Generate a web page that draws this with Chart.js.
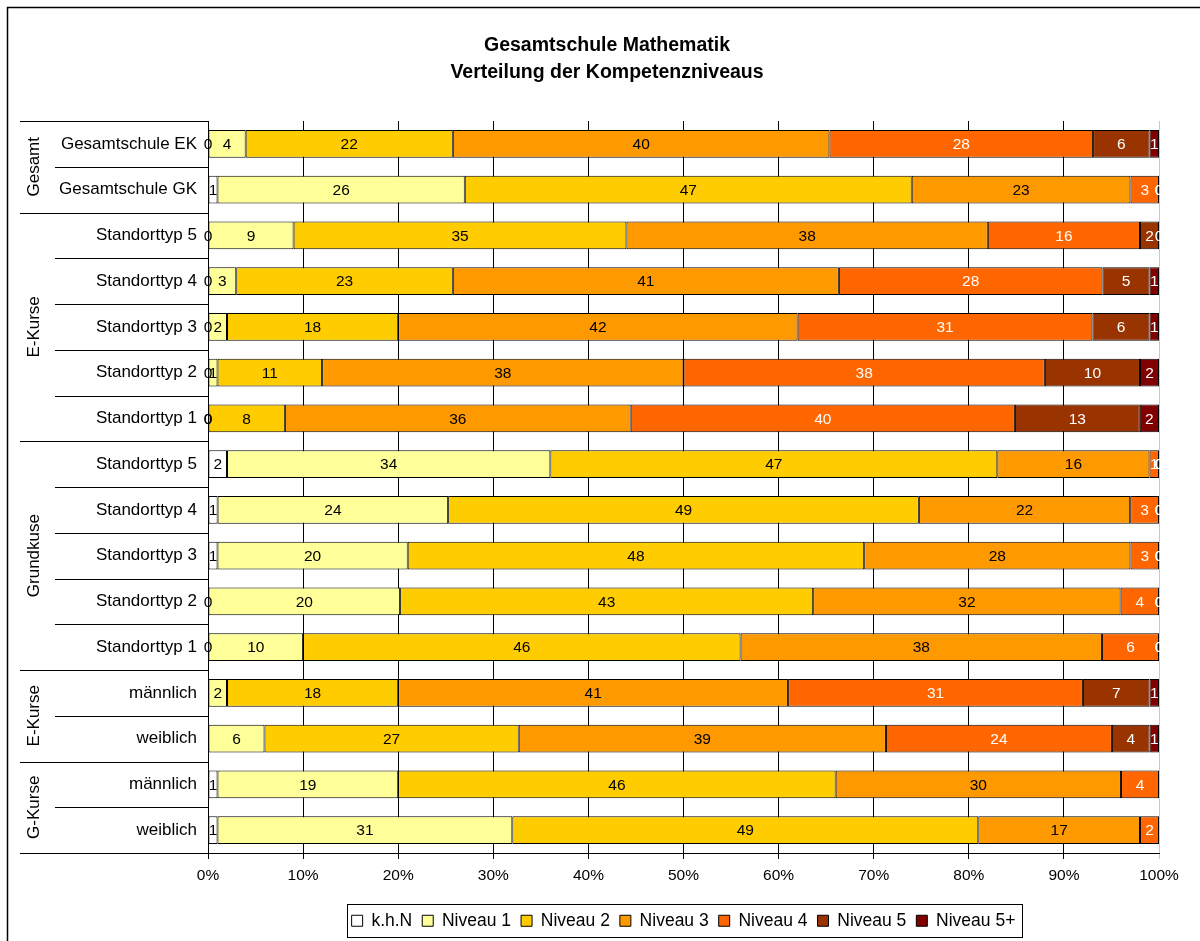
<!DOCTYPE html>
<html>
<head>
<meta charset="utf-8">
<script src="https://cdn.jsdelivr.net/npm/chart.js@4"></script>
<style>
  html, body { margin: 0; padding: 0; background: #fff; }
  #wrap { position: relative; width: 1200px; height: 941px; }
</style>
</head>
<body>
<div id="wrap"><canvas id="myChart"></canvas></div>
<script>
// rows top to bottom
const rowLabels = [
    'Gesamtschule EK', 'Gesamtschule GK',
    'Standorttyp 5', 'Standorttyp 4', 'Standorttyp 3', 'Standorttyp 2', 'Standorttyp 1',
    'Standorttyp 5', 'Standorttyp 4', 'Standorttyp 3', 'Standorttyp 2', 'Standorttyp 1',
    'männlich', 'weiblich',
    'männlich', 'weiblich'
];
// group name, number of rows
const groups = [['Gesamt', 2], ['E-Kurse', 5], ['Grundkuse', 5], ['E-Kurse', 2], ['G-Kurse', 2]];

const seriesNames = ['k.h.N', 'Niveau 1', 'Niveau 2', 'Niveau 3', 'Niveau 4', 'Niveau 5', 'Niveau 5+'];
const seriesColors = ['#FFFFFF', '#FFFF99', '#FFCC00', '#FF9900', '#FF6600', '#993300', '#800000'];

const khn   = [0, 1, 0, 0, 0, 0, 0, 2, 1, 1, 0, 0, null, null, 1, 1];
const niv1  = [4, 26, 9, 3, 2, 1, 0, 34, 24, 20, 20, 10, 2, 6, 19, 31];
const niv2  = [22, 47, 35, 23, 18, 11, 8, 47, 49, 48, 43, 46, 18, 27, 46, 49];
const niv3  = [40, 23, 38, 41, 42, 38, 36, 16, 22, 28, 32, 38, 41, 39, 30, 17];
const niv4  = [28, 3, 16, 28, 31, 38, 40, 1, 3, 3, 4, 6, 31, 24, 4, 2];
const niv5  = [6, 0, 2, 5, 6, 10, 13, 0, 0, 0, 0, 0, 7, 4, null, null];
const niv5p = [1, 0, 0, 1, 1, 2, 2, 0, 0, 0, 0, 0, 1, 1, null, null];

const series = [khn, niv1, niv2, niv3, niv4, niv5, niv5p];
const xTicks = [0, 10, 20, 30, 40, 50, 60, 70, 80, 90, 100];

const FONT = '"Liberation Sans", Arial, sans-serif';
Chart.defaults.font.family = FONT;
Chart.defaults.color = '#000';

// 100% stacked: each row shown as share of its total
const rowSums = rowLabels.map((_, j) => series.reduce((s, arr) => s + (arr[j] || 0), 0));
const datasets = series.map((arr, i) => ({
    label: seriesNames[i],
    data: arr.map((v, j) => v === null ? null : v / rowSums[j] * 100),
    backgroundColor: seriesColors[i],
    borderColor: '#000',
    borderWidth: 1,
    borderSkipped: false,
    barPercentage: 0.61,
    categoryPercentage: 1
}));

const valueLabels = {
    id: 'valueLabels',
    afterDatasetsDraw(chart) {
        const ctx = chart.ctx;
        ctx.save();
        ctx.font = '15.5px ' + FONT;
        ctx.textAlign = 'center';
        ctx.textBaseline = 'middle';
        chart.data.datasets.forEach((ds, i) => {
            chart.getDatasetMeta(i).data.forEach((bar, j) => {
                const v = series[i][j];
                if (v === null) return;
                ctx.fillStyle = i >= 4 ? '#fff' : '#000';
                ctx.fillText(String(v), (bar.x + bar.base) / 2, bar.y + 1);
            });
        });
        ctx.restore();
    }
};

const sideStuff = {
    id: 'sideStuff',
    afterDraw(chart) {
        const {ctx, chartArea} = chart;
        const rowH = (chartArea.bottom - chartArea.top) / rowLabels.length;
        ctx.save();
        // outer frame
        ctx.strokeStyle = '#000';
        ctx.lineWidth = 1.5;
        ctx.beginPath();
        ctx.moveTo(7.5, 941); ctx.lineTo(7.5, 7.5); ctx.lineTo(1200, 7.5);
        ctx.stroke();

        // row separators left of the axis
        const starts = [0];
        groups.forEach(g => starts.push(starts[starts.length - 1] + g[1]));
        ctx.lineWidth = 1;
        for (let k = 0; k <= rowLabels.length; k++) {
            const y = Math.round(chartArea.top + k * rowH) + 0.5;
            const x0 = starts.includes(k) ? 20 : 55;
            ctx.beginPath();
            ctx.moveTo(x0, y); ctx.lineTo(chartArea.left, y);
            ctx.stroke();
        }

        // group labels
        ctx.fillStyle = '#000';
        ctx.font = '17px ' + FONT;
        ctx.textAlign = 'center';
        ctx.textBaseline = 'middle';
        groups.forEach((g, gi) => {
            const mid = chartArea.top + (starts[gi] + g[1] / 2) * rowH;
            ctx.save();
            ctx.translate(34, mid);
            ctx.rotate(-Math.PI / 2);
            ctx.fillText(g[0], 0, 0);
            ctx.restore();
        });

        // legend border
        const hb = chart.legend.legendHitBoxes;
        if (hb && hb.length) {
            const l = hb[0].left - 5;
            const r = hb[hb.length - 1].left + hb[hb.length - 1].width + 6;
            const cy = hb[0].top + hb[0].height / 2;
            ctx.strokeRect(Math.round(l) + 0.5, Math.round(cy - 17) + 0.5, Math.round(r - l), 33);
        }
        ctx.restore();
    }
};

const context = document.getElementById('myChart').getContext('2d');
const myChart = new Chart(context, {
    type: 'bar',
    data: {
        labels: rowLabels,
        datasets: datasets
    },
    options: {
        indexAxis: 'y',
        responsive: true,
        maintainAspectRatio: false,
        animation: false,
        layout: {
            padding: {left: 55, right: 41, top: 0, bottom: 1.5}
        },
        scales: {
            x: {
                stacked: true,
                min: 0,
                max: 100,
                afterBuildTicks: (s) => { s.ticks = xTicks.map(v => ({value: v})); },
                afterFit: (s) => { s.height = 49; },
                ticks: {
                    callback: (v) => v + '%',
                    font: {size: 15.5},
                    padding: 7,
                    maxRotation: 0
                },
                grid: {
                    color: (c) => (c.tick && c.tick.value === 100) ? '#c8c8c8' : '#000',
                    lineWidth: 1,
                    tickLength: 6
                },
                border: {color: '#000'}
            },
            y: {
                stacked: true,
                afterFit: (s) => { s.width = 153; },
                ticks: {
                    font: {size: 17},
                    padding: 11,
                    autoSkip: false
                },
                grid: {drawOnChartArea: false, drawTicks: false},
                border: {color: '#000'}
            }
        },
        plugins: {
            title: {
                display: true,
                text: ['Gesamtschule Mathematik', 'Verteilung der Kompetenzniveaus'],
                color: '#000',
                font: {size: 19.5, weight: 'bold', lineHeight: 1.4},
                padding: {top: 31.7, bottom: 34.7}
            },
            legend: {
                position: 'bottom',
                fullSize: false,
                labels: {
                    boxWidth: 11,
                    boxHeight: 11,
                    padding: 10,
                    color: '#000',
                    font: {size: 17.5}
                }
            },
            tooltip: {enabled: false}
        }
    },
    plugins: [valueLabels, sideStuff]
});
</script>
</body>
</html>
